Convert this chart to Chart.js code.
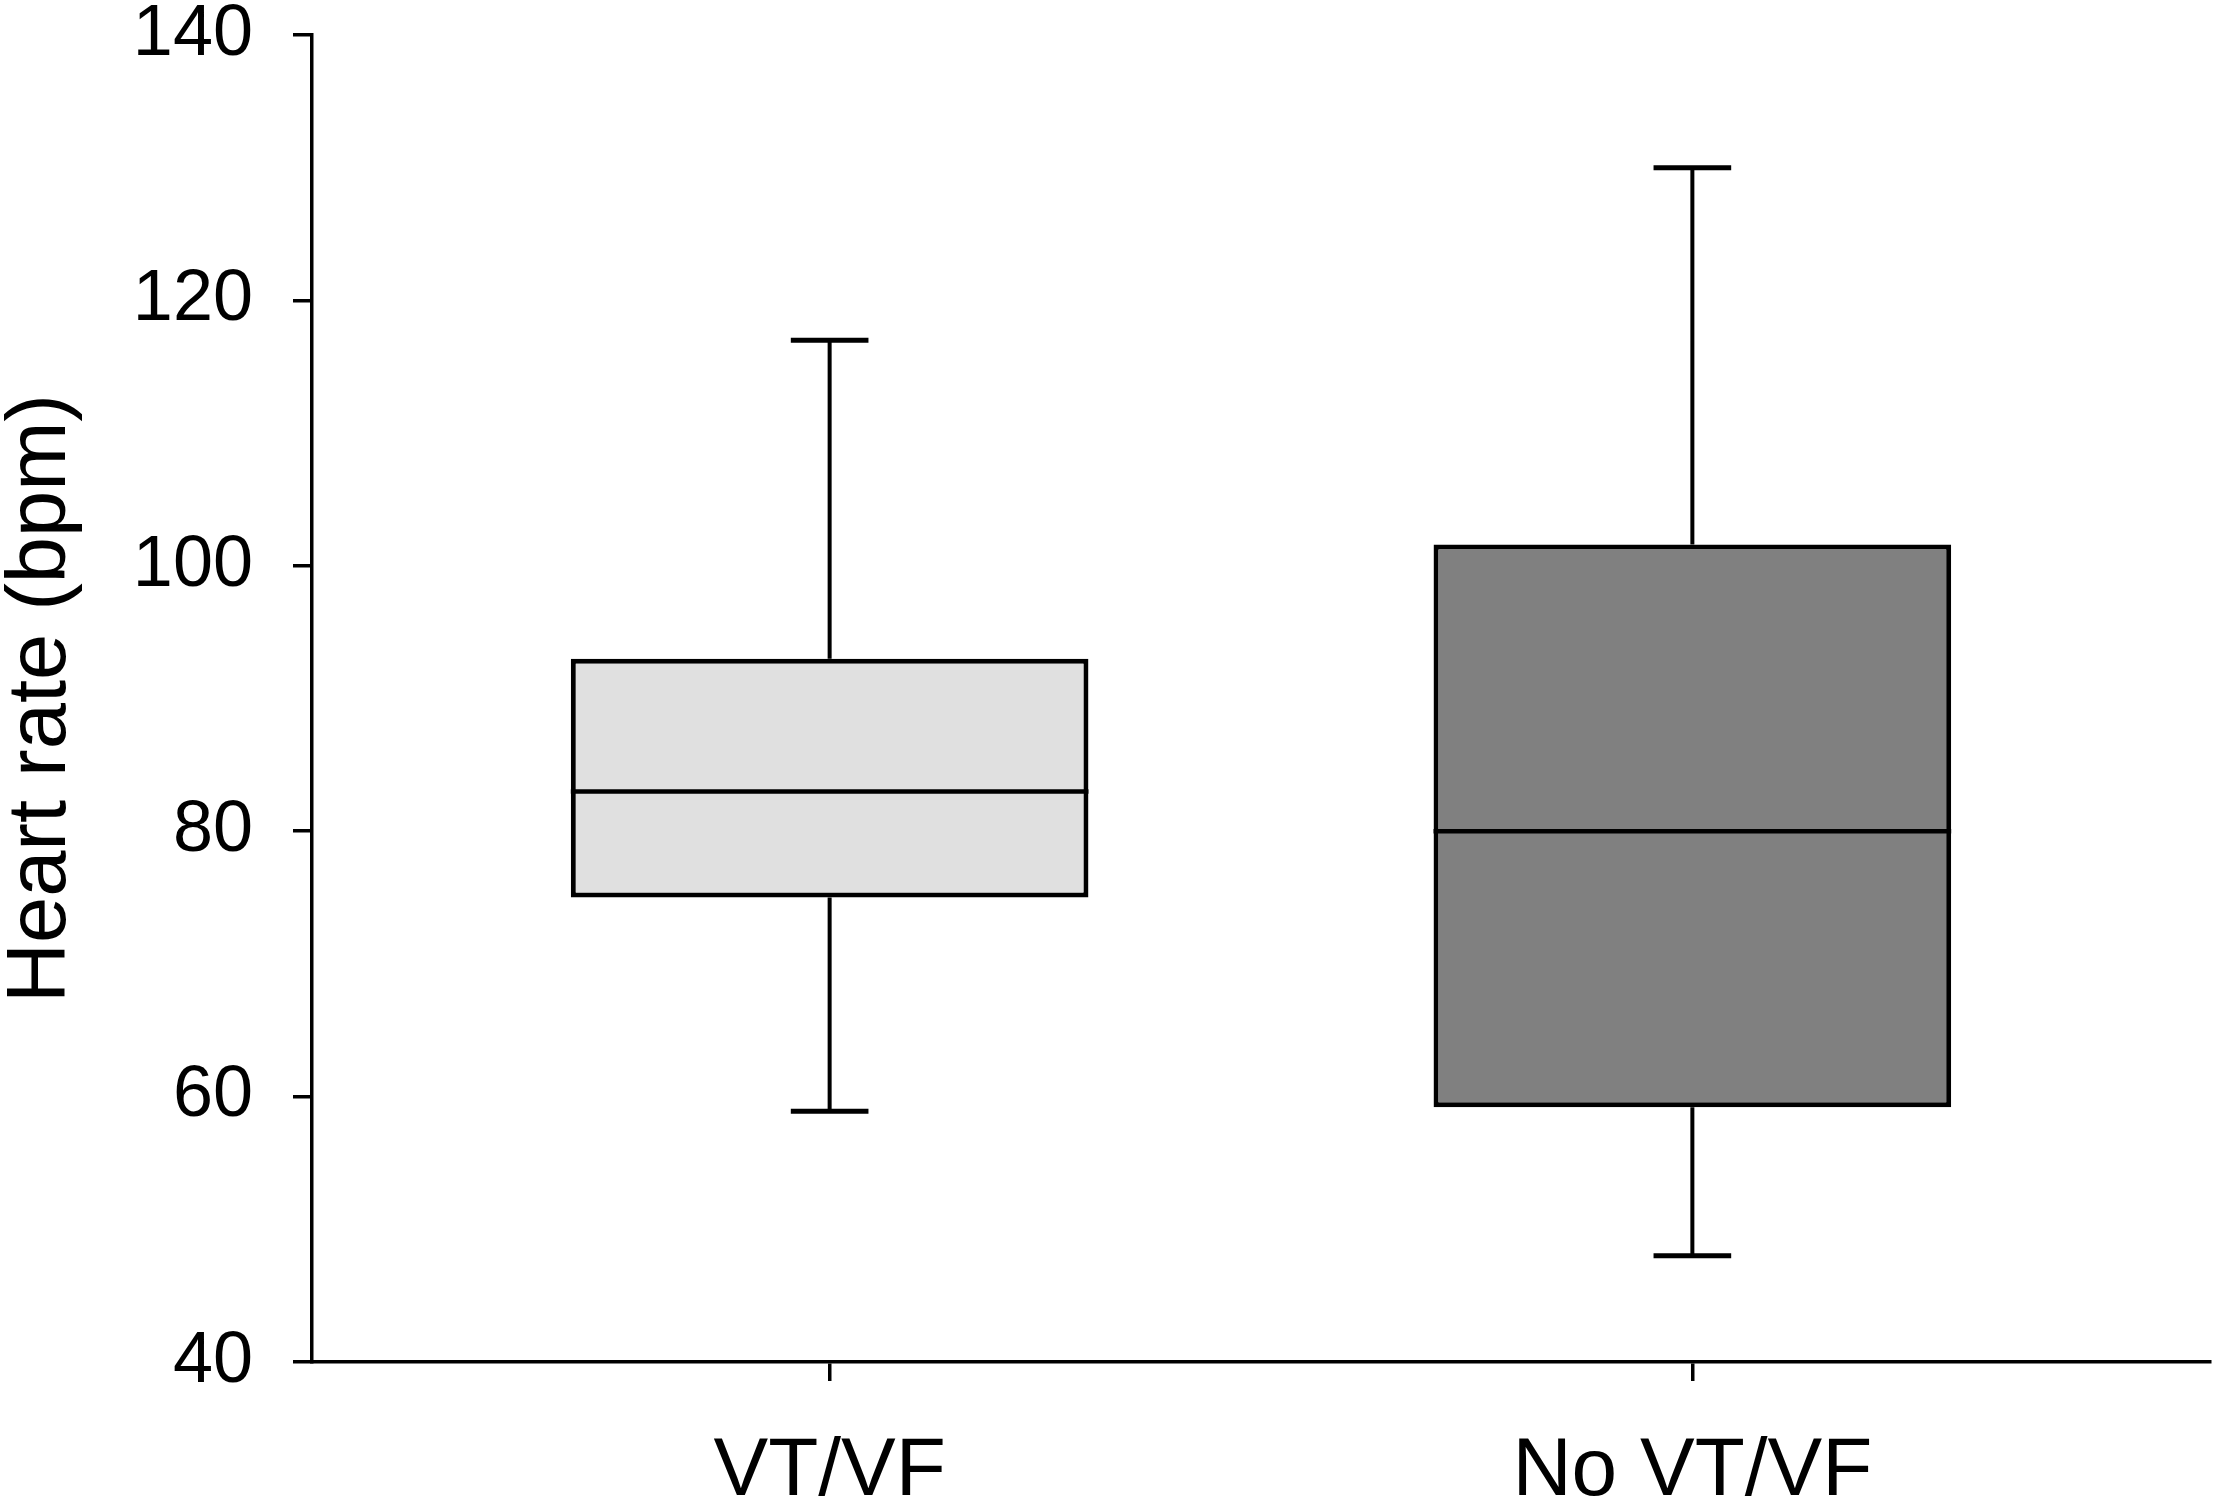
<!DOCTYPE html>
<html>
<head>
<meta charset="utf-8">
<script src="https://cdn.jsdelivr.net/npm/chart.js@4.4.1/dist/chart.umd.min.js"></script>
<style>
  html, body { margin: 0; padding: 0; background: #fff; }
  #wrap { width: 2217px; height: 1504px; }
</style>
</head>
<body>
<div id="wrap"><canvas id="grafica"></canvas></div>
<script>
// datos (frecuencia cardiaca, bpm)
const categorias = ['VT/VF', 'No VT/VF'];
const minimos = [58.9, 48];
const q1s = [75, 59.2];
const medianas = [83, 80];
const q3s = [93, 101.6];
const maximos = [117, 130];
const colores = ['#e0e0e0', '#808080'];
const ticksY = [40, 60, 80, 100, 120, 140];

const fuente = '"Liberation Sans", Arial, sans-serif';
const mitadCaja = 0.3;
const mitadTope = 0.045;

// cajas (barras flotantes de q1 a q3)
const cajas = categorias.map((c, i) => ({ x: i + 1, y: [q1s[i], q3s[i]] }));

// bigotes verticales
const bigotes = [];
categorias.forEach((c, i) => {
  const x = i + 1;
  bigotes.push({ x: x, y: minimos[i] }, { x: x, y: q1s[i] }, { x: x, y: null });
  bigotes.push({ x: x, y: q3s[i] }, { x: x, y: maximos[i] }, { x: x, y: null });
});

// topes de los bigotes
const topes = [];
categorias.forEach((c, i) => {
  const x = i + 1;
  topes.push({ x: x - mitadTope, y: minimos[i] }, { x: x + mitadTope, y: minimos[i] }, { x: x, y: null });
  topes.push({ x: x - mitadTope, y: maximos[i] }, { x: x + mitadTope, y: maximos[i] }, { x: x, y: null });
});

// medianas
const lineasMediana = [];
categorias.forEach((c, i) => {
  const x = i + 1;
  lineasMediana.push({ x: x - mitadCaja, y: medianas[i] }, { x: x + mitadCaja, y: medianas[i] }, { x: x, y: null });
});

const ctx = document.getElementById('grafica').getContext('2d');
new Chart(ctx, {
  data: {
    datasets: [
      {
        type: 'bar',
        data: cajas,
        backgroundColor: colores,
        borderColor: '#000',
        borderWidth: 5,
        borderSkipped: false,
        categoryPercentage: 1,
        barPercentage: 0.6,
        order: 2
      },
      {
        type: 'line',
        data: bigotes,
        borderColor: '#000',
        borderWidth: 4,
        pointRadius: 0,
        spanGaps: false,
        fill: false,
        order: 3
      },
      {
        type: 'line',
        data: topes,
        borderColor: '#000',
        borderWidth: 5,
        pointRadius: 0,
        spanGaps: false,
        fill: false,
        order: 1
      },
      {
        type: 'line',
        data: lineasMediana,
        borderColor: '#000',
        borderWidth: 4.5,
        pointRadius: 0,
        spanGaps: false,
        fill: false,
        order: 0
      }
    ]
  },
  options: {
    responsive: true,
    maintainAspectRatio: false,
    animation: false,
    devicePixelRatio: 1,
    layout: { padding: { top: 35, right: 7, left: 0, bottom: 0 } },
    plugins: { legend: { display: false }, tooltip: { enabled: false } },
    scales: {
      x: {
        type: 'linear',
        min: 0.4,
        max: 2.6,
        offset: false,
        afterBuildTicks: scale => { scale.ticks = categorias.map((c, i) => ({ value: i + 1 })); },
        afterFit: scale => { scale.height = 142; },
        ticks: {
          callback: v => categorias[v - 1],
          color: '#000',
          font: { family: fuente, size: 82 },
          padding: 42,
          maxRotation: 0,
          autoSkip: false
        },
        grid: { offset: false, drawOnChartArea: false, color: '#000', lineWidth: 3.5, tickLength: 19 },
        border: { display: true, color: '#000', width: 3.5 }
      },
      y: {
        min: 40,
        max: 140,
        afterBuildTicks: scale => { scale.ticks = ticksY.map(v => ({ value: v })); },
        afterFit: scale => {
          scale.width = 312;
          scale.paddingTop = 0;
          scale.paddingBottom = 0;
        },
        ticks: {
          color: '#000',
          font: { family: fuente, size: 72 },
          padding: 40
        },
        grid: { drawOnChartArea: false, color: '#000', lineWidth: 3.5, tickLength: 19 },
        border: { display: true, color: '#000', width: 3.5 },
        title: {
          display: true,
          text: 'Heart rate (bpm)',
          color: '#000',
          font: { family: fuente, size: 83, lineHeight: 1 },
          padding: 1
        }
      }
    }
  }
});
</script>
</body>
</html>
